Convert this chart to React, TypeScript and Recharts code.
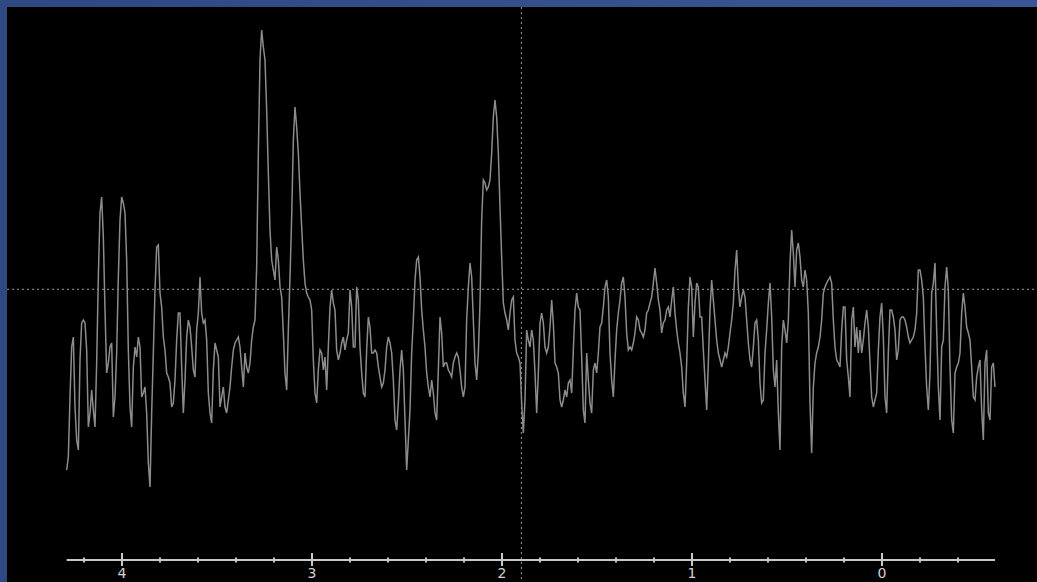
import React from 'react';
import { LineChart, Line, XAxis, YAxis, ReferenceLine } from 'recharts';

// spectrum sampled on an even ppm grid, high field on the right
const PPM_FIRST = 4.2912;
const PPM_STEP = 0.0087719;

// intensities (arbitrary units), left to right
const region4 = [
  30, 43, 103, 153, 163, 93, 60, 50, 140, 177, 180, 177, 150, 73, 87, 110, 90, 73, 137, 223,
  287, 303, 263, 190, 127, 137, 153, 157, 83, 103, 147, 223, 280, 303, 297, 287, 240, 150, 93, 73,
  133, 153, 143, 163, 153, 103, 107, 113, 87, 37, 13, 87, 147, 210, 253, 255, 207, 193, 163, 150,
  127, 123, 117, 93, 97, 120, 160, 187, 187, 133, 87, 120, 163, 180, 173, 153, 130, 123, 170, 187,
  223, 187, 177, 180, 160, 107, 87, 77, 130, 157, 150, 143, 93, 103, 113, 93, 87, 100,
];

const region3 = [
  113, 133, 150, 157, 160, 163, 153, 133, 113, 147, 133, 127, 137, 160, 173, 180, 233, 347, 440, 470,
  453, 440, 390, 327, 270, 240, 230, 220, 253, 240, 213, 203, 167, 127, 110, 170, 223, 283, 360, 393,
  373, 347, 307, 273, 240, 217, 207, 203, 200, 190, 140, 107, 97, 130, 150, 147, 130, 143, 110, 153,
  193, 210, 197, 190, 150, 140, 147, 157, 163, 150, 160, 167, 210, 193, 153, 153, 213, 200, 153, 127,
  107, 103, 150, 183, 173, 147, 147, 150, 147, 133, 123, 113, 117, 130, 153, 163, 157, 147, 120, 80,
  70, 97, 130, 150, 130, 80, 30, 60, 90, 147, 180, 220, 240, 243, 223, 190, 170, 153, 127, 113,
  103, 120, 107, 87, 80, 130, 183, 167, 133, 137, 137, 130, 127, 123, 137, 143, 147, 143, 130, 113,
  103, 113, 180, 213, 237, 223, 180, 137, 120, 147, 197, 280, 320, 317, 310, 313, 320, 347, 383, 400,
  383, 347, 293, 243, 197, 187, 180, 170, 187, 200, 203, 160, 147, 143, 137, 97, 67, 100,
];

const region1 = [
  170, 160, 153, 170, 160, 127, 87, 127, 177, 187, 177, 153, 147, 153, 173, 200, 177, 137, 133, 127,
  100, 93, 100, 110, 103, 117, 120, 107, 150, 190, 207, 193, 190, 143, 90, 77, 147, 120, 97, 87,
  130, 137, 127, 147, 173, 177, 193, 213, 220, 203, 147, 120, 103, 140, 170, 187, 200, 217, 223, 203,
  167, 150, 153, 150, 157, 167, 183, 180, 170, 167, 163, 170, 187, 190, 197, 203, 217, 232, 217, 200,
  190, 167, 177, 180, 190, 193, 183, 200, 213, 187, 170, 157, 147, 133, 107, 93, 137, 193, 223, 213,
  163, 197, 217, 213, 183, 183, 150, 120, 90, 137, 190, 220, 200, 180, 160, 147, 140, 133, 140, 147,
  143, 153, 167, 180, 197, 230, 250, 213, 193, 203, 210, 203, 180, 157, 140, 133, 153, 177, 180, 160,
  117, 97, 100, 147, 170, 197, 217, 183, 130, 113, 140, 87,
];

const region0 = [
  50, 153, 180, 170, 157, 180, 237, 270, 247, 213, 250, 257, 243, 220, 213, 230, 220, 187, 97, 47,
  113, 137, 147, 153, 163, 180, 207, 213, 217, 220, 223, 217, 180, 153, 140, 137, 133, 170, 193, 193,
  140, 123, 103, 180, 193, 153, 173, 147, 170, 147, 160, 177, 190, 173, 137, 103, 93, 100, 107, 150,
  183, 197, 163, 103, 87, 147, 190, 190, 183, 170, 140, 150, 180, 183, 183, 180, 173, 163, 157, 160,
  163, 170, 187, 230, 230, 220, 203, 153, 113, 90, 127, 207, 217, 237, 170, 113, 80, 153, 160, 213,
  233, 210, 133, 80, 67, 127, 133, 137, 147, 187, 207, 193, 173, 167, 160, 133, 103, 100, 123, 133,
  140, 90, 60, 137, 150, 87, 80, 133, 137, 113,
];

const intensities = [...region4, ...region3, ...region1, ...region0];

const ppmTicks = [
  4.2, 4.0, 3.8, 3.6, 3.4, 3.2, 3.0, 2.8, 2.6, 2.4, 2.2, 2.0,
  1.8, 1.6, 1.4, 1.2, 1.0, 0.8, 0.6, 0.4, 0.2, 0.0, -0.2, -0.4,
];

// cursor position
const cursorPpm = 1.898;
const cursorIntensity = 210.7;

const chartData = intensities.map((value, i) => ({
  ppm: PPM_FIRST - i * PPM_STEP,
  value,
}));

const PpmTick = (props: any) => {
  const { x, y, payload } = props;
  const major = Math.abs(payload.value - Math.round(payload.value)) < 1e-6;
  return (
    <g>
      <line
        x1={x}
        x2={x}
        y1={major ? y - 7 : y - 2.5}
        y2={major ? y + 6 : y + 2.5}
        stroke="#c8c8c8"
        strokeWidth={2}
      />
      {major && (
        <text
          x={x}
          y={y + 8}
          dy="0.71em"
          textAnchor="middle"
          fill="#d2d2d2"
          fontSize={14}
          fontFamily="DejaVu Sans"
        >
          {Math.round(payload.value)}
        </text>
      )}
    </g>
  );
};

const App: React.FC = () => {
  return (
    <div
      style={{
        position: 'fixed',
        left: 0,
        top: 0,
        width: 1037,
        height: 582,
        background: 'linear-gradient(90deg, #2e4882 0%, #3a5696 100%)',
        overflow: 'hidden',
      }}
    >
      <div style={{ position: 'absolute', left: 7, top: 7, width: 1030, height: 575, background: '#000' }}>
        <LineChart
          width={1030}
          height={575}
          data={chartData}
          margin={{ top: 13, right: 42, bottom: 0, left: 59.67 }}
        >
          <XAxis
            dataKey="ppm"
            type="number"
            domain={['dataMin', 'dataMax']}
            reversed
            ticks={ppmTicks}
            interval={0}
            height={22}
            tickSize={0}
            tickMargin={0}
            tickLine={false}
            axisLine={{ stroke: '#c8c8c8', strokeWidth: 2 }}
            tick={<PpmTick />}
          />
          <YAxis hide domain={[-60, 480]} allowDataOverflow />
          <ReferenceLine
            x={cursorPpm}
            stroke="#9a9a9a"
            strokeDasharray="2 3"
            shape={(p: any) => (
              <line x1={p.x1} x2={p.x2} y1={0} y2={575} stroke="#9a9a9a" strokeWidth={1} strokeDasharray="2 3" />
            )}
          />
          <ReferenceLine
            y={cursorIntensity}
            stroke="#9a9a9a"
            strokeDasharray="2 3"
            shape={(p: any) => (
              <line x1={0} x2={1030} y1={p.y1} y2={p.y2} stroke="#9a9a9a" strokeWidth={1} strokeDasharray="2 3" />
            )}
          />
          <Line
            type="linear"
            dataKey="value"
            stroke="#8c8c8c"
            strokeWidth={1.5}
            dot={false}
            isAnimationActive={false}
          />
        </LineChart>
      </div>
    </div>
  );
};

export default App;
